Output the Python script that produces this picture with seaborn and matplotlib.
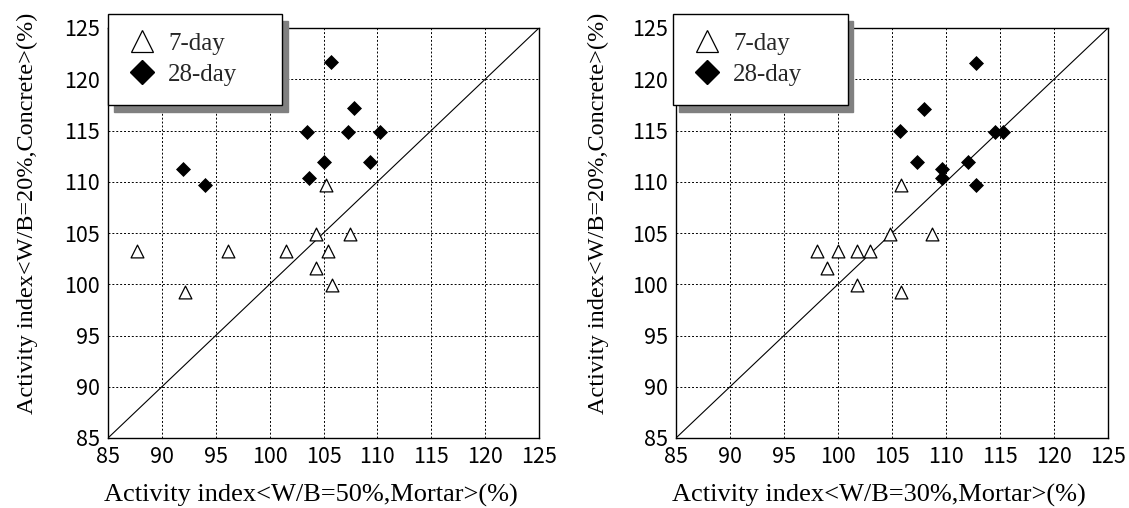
import numpy as np
import pandas as pd
import seaborn as sns
import matplotlib.pyplot as plt
from matplotlib.lines import Line2D

sns.set_theme(style="white")
plt.rcParams['font.family'] = ['Liberation Serif', 'DejaVu Serif']

# 读图得到的数据 (左: W/B=50% 砂浆, 右: W/B=30% 砂浆)
left_7_x = [87.7, 92.1, 96.1, 101.5, 104.3, 104.3, 105.2, 105.4, 105.8, 107.5]
left_7_y = [103.2, 99.2, 103.2, 103.2, 104.9, 101.6, 109.7, 103.2, 99.9, 104.9]
left_28_x = [92.0, 94.0, 103.5, 103.7, 105.0, 105.7, 107.3, 107.8, 109.3, 110.2]
left_28_y = [111.2, 109.7, 114.9, 110.4, 111.9, 121.7, 114.9, 117.2, 111.9, 114.9]

right_7_x = [98.1, 99.0, 100.0, 101.8, 101.8, 103.0, 104.8, 105.8, 105.8, 108.7]
right_7_y = [103.2, 101.6, 103.2, 103.2, 99.9, 103.2, 104.9, 109.7, 99.2, 104.9]
right_28_x = [105.7, 107.3, 108.0, 109.6, 109.6, 112.0, 112.8, 112.8, 114.5, 115.3]
right_28_y = [115.0, 111.9, 117.1, 111.2, 110.4, 111.9, 121.6, 109.7, 114.9, 114.9]

diag = [85, 125]
ticks = list(range(85, 126, 5))
labels = ['7-day', '28-day']
ylabel = 'Activity index<W/B=20%,Concrete>(%)'
xlabels = ['Activity index<W/B=50%,Mortar>(%)', 'Activity index<W/B=30%,Mortar>(%)']

W, H = 1129, 508
fig = plt.figure(figsize=(W / 100, H / 100), dpi=100)
ax1 = fig.add_axes([108 / W, 70 / H, 431 / W, 410 / H])
ax2 = fig.add_axes([676 / W, 70 / H, 432 / W, 410 / H])


def draw_panel(ax, x7, y7, x28, y28, xlabel, leg_x, ylab_x):
    ax.grid(True, color='black', linestyle=(0, (2, 2)), linewidth=0.7)
    sns.lineplot(x=diag, y=diag, ax=ax, color='black', linewidth=0.8)
    sns.scatterplot(x=x7, y=y7, ax=ax, marker='^', s=85, facecolor='white',
                    edgecolor='black', linewidth=0.9, zorder=3)
    sns.scatterplot(x=x28, y=y28, ax=ax, marker='D', s=50, color='black',
                    edgecolor='black', zorder=3)
    ax.set_xlim(85, 125)
    ax.set_ylim(85, 125)
    ax.set_xticks(ticks)
    ax.set_yticks(ticks)
    ax.tick_params(length=0, pad=6, labelsize=15.5, labelfontfamily='Noto Sans CJK JP',
                   labelcolor='black')
    for s in ax.spines.values():
        s.set_color('black')
        s.set_linewidth(1.0)
    ax.set_xlabel(xlabel, fontsize=19, color='black')
    ax.set_ylabel(ylabel, fontsize=17.5, color='black')
    ax.xaxis.label.set_verticalalignment('center')
    ax.yaxis.label.set_verticalalignment('center')
    ax.xaxis.set_label_coords(0.47, -0.139)
    ax.yaxis.set_label_coords(ylab_x, 0.549)

    handles = [
        Line2D([], [], marker='^', linestyle='none', markerfacecolor='white',
               markeredgecolor='black', markersize=16, markeredgewidth=0.9),
        Line2D([], [], marker='D', linestyle='none', color='black', markersize=12),
    ]
    leg = ax.legend(handles, labels, loc='upper left', bbox_to_anchor=(leg_x, 0.8, 0.404, 0.235),
                    mode='expand', fontsize=18, frameon=True, fancybox=False,
                    framealpha=1, edgecolor='black', borderaxespad=0,
                    borderpad=0.75, labelspacing=0.35, handlelength=1.2, handletextpad=0.45,
                    shadow={'ox': 4, 'oy': -5, 'color': '#808080', 'alpha': 1})
    leg.get_frame().set_linewidth(1.0)
    leg.set_zorder(10)


draw_panel(ax1, left_7_x, left_7_y, left_28_x, left_28_y, xlabels[0], 0.0, -0.186)
draw_panel(ax2, right_7_x, right_7_y, right_28_x, right_28_y, xlabels[1], -0.007, -0.18)

plt.savefig('out.png', dpi=100)
